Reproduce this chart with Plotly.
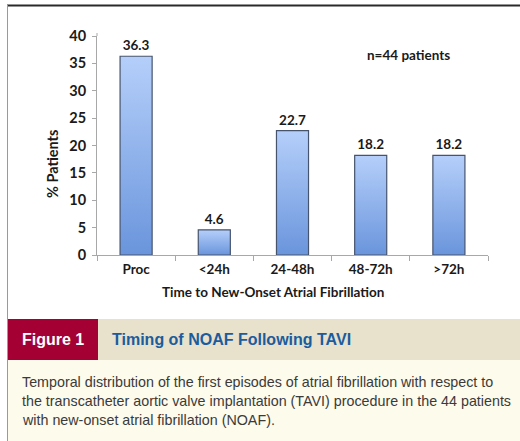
import plotly.graph_objects as go

categories = ["Proc", "<24h", "24-48h", "48-72h", ">72h"]
values = [36.3, 4.6, 22.7, 18.2, 18.2]
value_labels = ["36.3", "4.6", "22.7", "18.2", "18.2"]
y_ticks = [0, 5, 10, 15, 20, 25, 30, 35, 40]
x_title = "Time to New-Onset Atrial Fibrillation"
y_title = "% Patients"
note = "n=44 patients"

W, H = 520, 441
L, R, T, B = 97, 32, 36, 186
PW = W - L - R
PH = H - T - B


def px(x):
    return (x - L) / PW


def py(y):
    return (H - B - y) / PH


BAR_W = 0.41
CHART_FONT = "Lato, 'Open Sans', Arial, sans-serif"
FS = 13.5
fig = go.Figure()

for i, v in enumerate(values):
    x0, x1 = i - BAR_W / 2, i + BAR_W / 2
    fig.add_trace(go.Scatter(
        x=[x0, x0, x1, x1, x0], y=[0, v, v, 0, 0],
        mode="lines", fill="toself",
        line=dict(color="#46546e", width=1.2),
        fillgradient=dict(type="vertical",
                          colorscale=[[0, "#6a95dc"], [1, "#b5cffa"]]),
        hoverinfo="skip", showlegend=False,
    ))

fig.add_trace(go.Bar(
    x=list(range(len(values))), y=values, width=BAR_W,
    marker=dict(color="rgba(0,0,0,0)", line=dict(width=0)),
    text=value_labels, textposition="outside", cliponaxis=False,
    textfont=dict(family=CHART_FONT, size=FS, color="#1a1a1a", weight="bold"),
    showlegend=False, hoverinfo="skip",
))

fig.update_layout(
    width=W, height=H,
    margin=dict(l=L, r=R, t=T, b=B, pad=0, autoexpand=False),
    paper_bgcolor="white", plot_bgcolor="white",
    font=dict(family=CHART_FONT, size=FS, color="#1a1a1a"),
    xaxis=dict(
        range=[-0.5, len(values) - 0.5],
        tickmode="array", tickvals=list(range(len(values))), ticktext=categories,
        ticks="", showgrid=False, zeroline=False,
        showline=True, linecolor="#a8a8a8", linewidth=1,
        tickfont=dict(family=CHART_FONT, size=FS, color="#1a1a1a", weight="bold"),
        ticklabelstandoff=2,
        minor=dict(tickmode="array",
                   tickvals=[k - 0.5 for k in range(len(values) + 1)],
                   ticks="outside", ticklen=5, tickcolor="#a8a8a8", showgrid=False),
        fixedrange=True,
    ),
    yaxis=dict(
        range=[0, 40], tickmode="array", tickvals=y_ticks,
        ticks="outside", ticklen=4, tickcolor="#a8a8a8",
        showgrid=False, zeroline=False,
        showline=True, linecolor="#a8a8a8", linewidth=1,
        tickfont=dict(family=CHART_FONT, size=14.5, color="#1a1a1a", weight="bold"),
        ticklabelstandoff=3,
        fixedrange=True,
    ),
)

shapes = [
    # top border
    dict(type="line", xref="paper", yref="paper", x0=px(7), x1=px(W), y0=py(5.5), y1=py(5.5),
         line=dict(color="#2a2a2a", width=2)),
    # left border
    dict(type="line", xref="paper", yref="paper", x0=px(7.5), x1=px(7.5), y0=py(5), y1=py(H),
         line=dict(color="#9a9a9a", width=1)),
    # y-axis line extension above top tick
    dict(type="line", xref="paper", yref="paper", x0=0, x1=0, y0=1, y1=py(33),
         line=dict(color="#a8a8a8", width=1)),
    # figure label band
    dict(type="rect", xref="paper", yref="paper", x0=px(98), x1=px(W), y0=py(360), y1=py(319),
         fillcolor="#e8e1cb", line=dict(width=0), layer="below"),
    dict(type="rect", xref="paper", yref="paper", x0=px(8), x1=px(98), y0=py(360), y1=py(319),
         fillcolor="#a50034", line=dict(width=0), layer="below"),
    # caption background
    dict(type="rect", xref="paper", yref="paper", x0=px(8), x1=px(W), y0=py(H), y1=py(360),
         fillcolor="#fdfbec", line=dict(width=0), layer="below"),
]
fig.update_layout(shapes=shapes)

SANS = "'Liberation Sans', Arial, sans-serif"
annotations = [
    dict(text=note, xref="paper", yref="paper", x=px(408), y=py(55),
         showarrow=False, xanchor="center", yanchor="middle",
         font=dict(family=CHART_FONT, size=FS, color="#1a1a1a", weight="bold")),
    dict(text=x_title, xref="paper", yref="paper", x=px(272.5), y=py(292),
         showarrow=False, xanchor="center", yanchor="middle",
         font=dict(family=CHART_FONT, size=FS, color="#1a1a1a", weight="bold")),
    dict(text=y_title, xref="paper", yref="paper", x=px(52), y=py(164), textangle=-90,
         showarrow=False, xanchor="center", yanchor="middle",
         font=dict(family=CHART_FONT, size=14.5, color="#1a1a1a", weight="bold")),
    dict(text="Figure 1", xref="paper", yref="paper", x=px(53), y=py(339.5),
         showarrow=False, xanchor="center", yanchor="middle",
         font=dict(family=SANS, size=16, color="white", weight="bold")),
    dict(text="Timing of NOAF Following TAVI", xref="paper", yref="paper", x=px(110), y=py(339.5),
         showarrow=False, xanchor="left", yanchor="middle",
         font=dict(family=SANS, size=16, color="#1b5c9e", weight="bold")),
]
caption_lines = [
    "Temporal distribution of the first episodes of atrial fibrillation with respect to",
    "the transcatheter aortic valve implantation (TAVI) procedure in the 44 patients",
    "with new-onset atrial fibrillation (NOAF).",
]
for k, line in enumerate(caption_lines):
    annotations.append(dict(
        text=line, xref="paper", yref="paper", x=px(20), y=py(382 + 19 * k),
        showarrow=False, xanchor="left", yanchor="middle",
        font=dict(family=SANS, size=14.3, color="#3a3a3a")))
fig.update_layout(annotations=annotations)

fig.write_html("out.html", config={"displayModeBar": False},
               post_script="document.body.style.margin='0';document.body.style.overflow='hidden';")
